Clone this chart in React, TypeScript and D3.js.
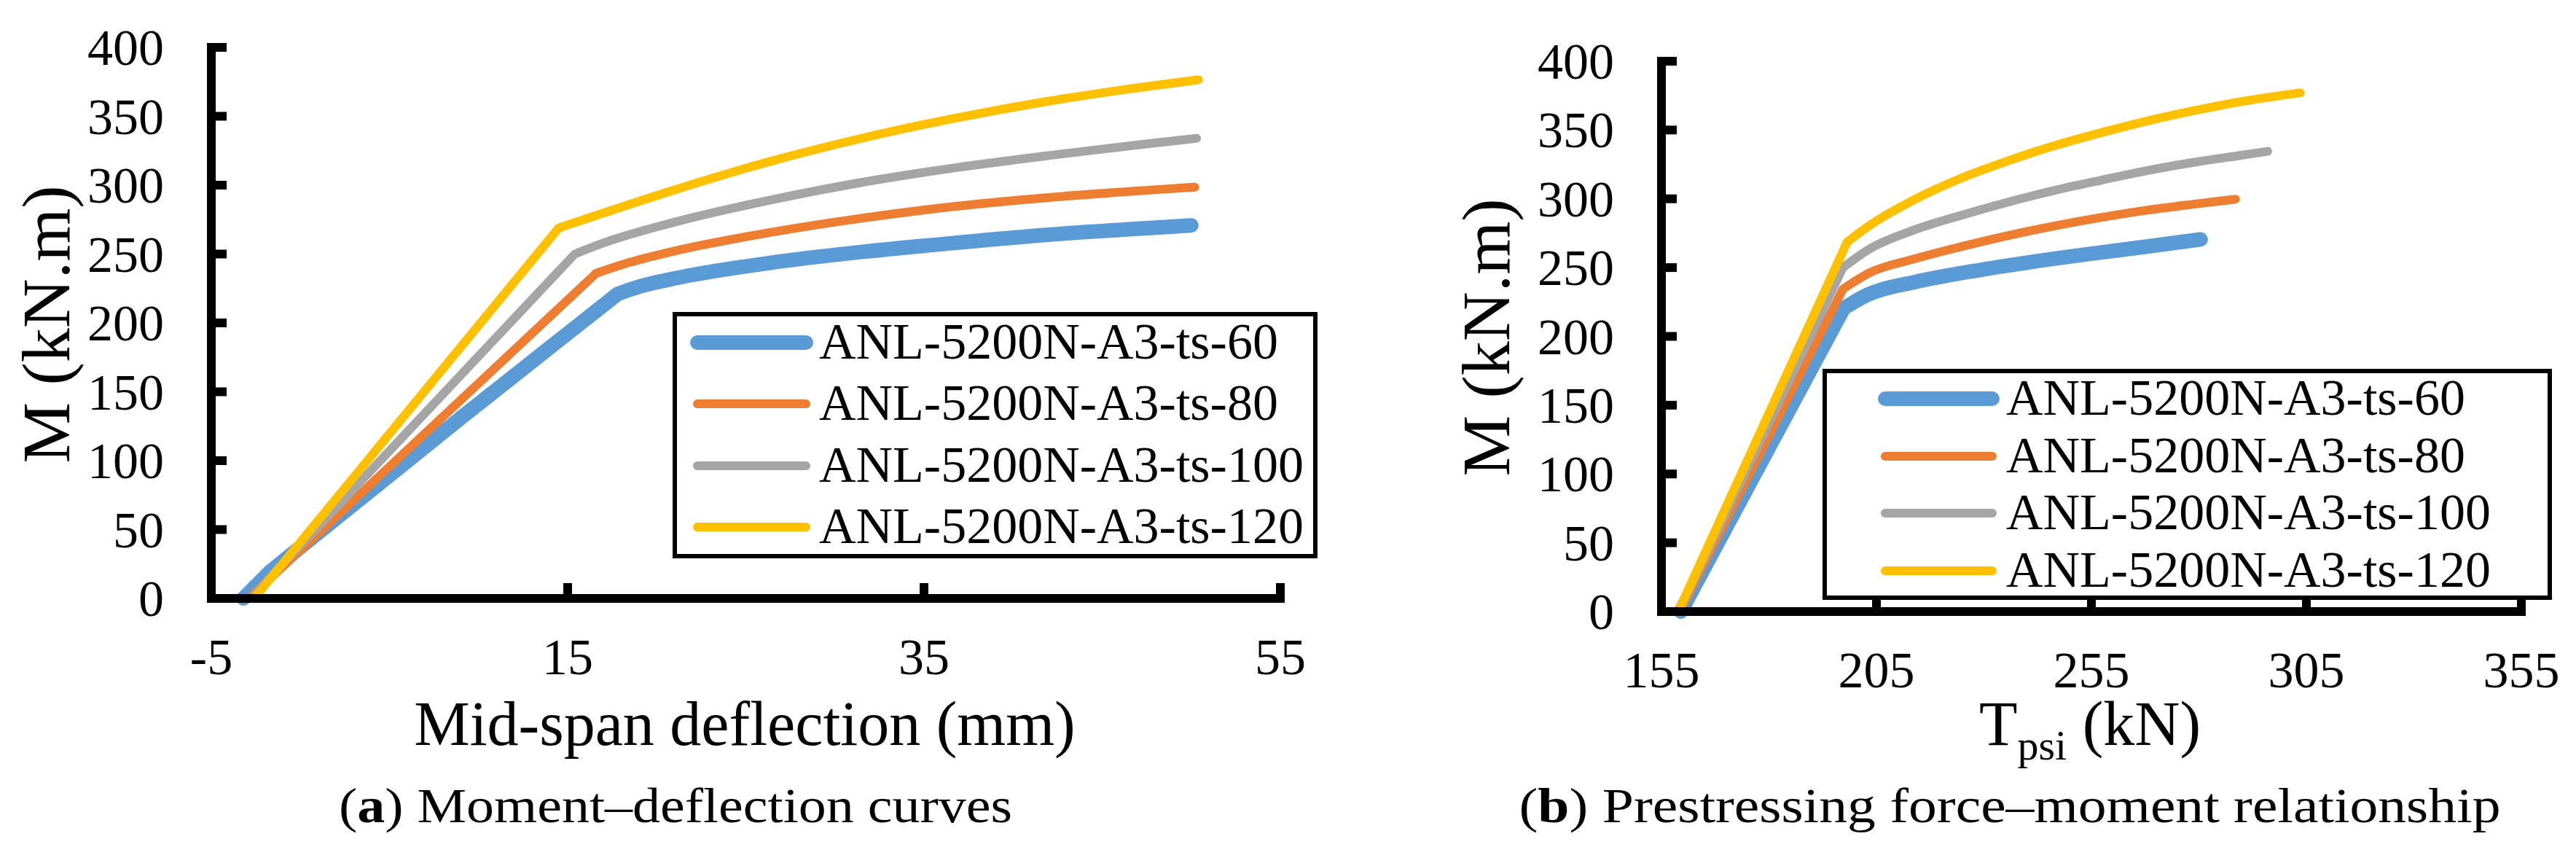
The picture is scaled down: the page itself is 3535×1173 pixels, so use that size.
import React from 'react';
import * as d3 from 'd3';

type Pt = [number, number];

// series labels and colours (Excel palette)
const SERIES_NAMES = [
  'ANL-5200N-A3-ts-60',
  'ANL-5200N-A3-ts-80',
  'ANL-5200N-A3-ts-100',
  'ANL-5200N-A3-ts-120',
];
const SERIES_COLORS = ['#5B9BD5', '#ED7D31', '#A5A5A5', '#FFC000'];

const M_TICKS = [0, 50, 100, 150, 200, 250, 300, 350, 400];
const DEFLECTION_TICKS = [-5, 15, 35, 55];
const FORCE_TICKS = [155, 205, 255, 305, 355];

// (a) mid-span deflection (mm) vs moment (kN.m)
const deflectionTs60: Pt[] = [[-3.2, 0], [-1.65, 20], [9, 131], [17.8, 221], [19.2, 227], [21.1, 232.5], [26.3, 243.5], [31.5, 251.5], [36.7, 258], [42, 264], [47.2, 268.5], [50, 270.8]];
const deflectionTs80: Pt[] = [[-2.9, 0], [16.6, 236], [18.5, 244], [21.1, 252.5], [26.3, 265.5], [31.5, 276], [36.7, 284.5], [42, 291], [50.2, 298.5]];
const deflectionTs100: Pt[] = [[-2.8, 0], [15.4, 250], [17, 258], [21.1, 273.5], [26.3, 289], [31.5, 302], [36.7, 312.5], [42, 321.5], [47.2, 329.5], [50.3, 334]];
const deflectionTs120: Pt[] = [[-2.6, 0], [14.5, 269], [15.9, 275], [21.1, 297], [26.3, 317], [31.5, 334], [36.7, 348.5], [42, 361], [47.2, 371], [50.4, 376.5]];

// (b) prestressing force T_psi (kN) vs moment (kN.m)
const forceTs60: Pt[] = [[159.5, 0], [197.4, 220.5], [203.1, 230.5], [213.9, 239.5], [224.7, 246], [235.5, 251.5], [246.3, 256.5], [257.2, 261], [267.9, 265.3], [280.4, 270.5]];
const forceTs80: Pt[] = [[159.3, 0], [197.2, 234.3], [203.1, 245.8], [213.9, 256.4], [224.7, 265.2], [235.5, 273.2], [246.3, 280.2], [257.2, 286.4], [267.9, 291.7], [278.8, 296.1], [288.5, 299.7]];
const forceTs100: Pt[] = [[159.1, 0], [197.2, 250], [203.1, 263], [213.9, 277.5], [224.7, 288], [235.5, 297.5], [246.3, 306], [257.2, 313.5], [267.9, 320.5], [278.8, 326.5], [289.6, 331.5], [296, 334.5]];
const forceTs120: Pt[] = [[158.9, 0], [198.2, 268.6], [203.1, 280], [213.9, 299.5], [224.7, 315], [235.5, 327.5], [246.3, 338.5], [257.2, 348], [267.9, 356.5], [278.8, 364], [289.6, 370.5], [303.6, 377]];

const FONT = '"Times New Roman", "Liberation Serif", serif';

// index of the yield point: where the slope drops the most
function kneeIndex(s: Pt[]) {
  let best = 1, bestRatio = 0;
  for (let i = 1; i < s.length - 1; i++) {
    const a = (s[i][1] - s[i - 1][1]) / (s[i][0] - s[i - 1][0]);
    const b = (s[i + 1][1] - s[i][1]) / (s[i + 1][0] - s[i][0]);
    const r = a / b;
    if (r > bestRatio) { bestRatio = r; best = i; }
  }
  return best;
}

interface PanelProps {
  xDomain: [number, number];
  xRange: [number, number];
  yRange: [number, number];
  xTicks: number[];
  series: Pt[][];
  legend: { x: number; y: number; w: number; h: number; lineX: [number, number]; textX: number; rows: number[] };
}

const Panel: React.FC<PanelProps> = ({ xDomain, xRange, yRange, xTicks, series, legend }) => {
  const x = d3.scaleLinear().domain(xDomain).range(xRange);
  const y = d3.scaleLinear().domain([0, 400]).range(yRange);
  const straight = d3.line<Pt>().x(d => x(d[0])).y(d => y(d[1]));
  const smooth = d3.line<Pt>().x(d => x(d[0])).y(d => y(d[1])).curve(d3.curveMonotoneX);

  // elastic branch straight, post-yield branch smoothed
  const pathFor = (s: Pt[]) => {
    const k = kneeIndex(s);
    const pre = straight(s.slice(0, k + 1)) || '';
    const post = (smooth(s.slice(k)) || '').replace(/^M/, 'L');
    return pre + post;
  };

  const ax = x(xDomain[0]);
  const ay = y(0);

  return (
    <g>
      {series.map((s, i) => (
        <path key={i} d={pathFor(s)} fill="none" stroke={SERIES_COLORS[i]}
          strokeWidth={i === 0 ? 20 : 12} strokeLinecap="round" strokeLinejoin="round" />
      ))}

      <line x1={ax} x2={ax} y1={y(400) - 6} y2={ay + 6} stroke="#000" strokeWidth={12} />
      <line x1={ax - 6} x2={x(xDomain[1]) + 6} y1={ay} y2={ay} stroke="#000" strokeWidth={12} />
      {M_TICKS.map(t => (
        <g key={'y' + t}>
          <line x1={ax} x2={ax + 21} y1={y(t)} y2={y(t)} stroke="#000" strokeWidth={12} />
          <text x={ax - 65} y={y(t) + 24} textAnchor="end" fontSize={70}>{t}</text>
        </g>
      ))}
      {xTicks.map(t => (
        <g key={'x' + t}>
          <line x1={x(t)} x2={x(t)} y1={ay} y2={ay - 21} stroke="#000" strokeWidth={12} />
          <text x={x(t)} y={ay + 104} textAnchor="middle" fontSize={70}>{t}</text>
        </g>
      ))}

      <rect x={legend.x} y={legend.y} width={legend.w} height={legend.h} fill="#fff" stroke="#000" strokeWidth={6} />
      {SERIES_NAMES.map((name, i) => (
        <g key={name}>
          <line x1={legend.lineX[0]} x2={legend.lineX[1]} y1={legend.rows[i]} y2={legend.rows[i]}
            stroke={SERIES_COLORS[i]} strokeWidth={i === 0 ? 20 : 12} strokeLinecap="round" />
          <text x={legend.textX} y={legend.rows[i] + 22} fontSize={70}>{name}</text>
        </g>
      ))}
    </g>
  );
};

export default function App() {
  return (
    <svg width={3535} height={1173} viewBox="0 0 3535 1173"
      style={{ position: 'absolute', left: 0, top: 0, background: '#fff' }}
      fontFamily={FONT} fill="#000">
      <rect width={3535} height={1173} fill="#fff" />

      <Panel
        xDomain={[-5, 55]} xRange={[290, 1757]} yRange={[821, 65]}
        xTicks={DEFLECTION_TICKS}
        series={[deflectionTs60, deflectionTs80, deflectionTs100, deflectionTs120]}
        legend={{ x: 926, y: 431, w: 879, h: 332, lineX: [957, 1106], textX: 1124, rows: [470, 554, 639, 723] }}
      />
      <text transform="translate(95,445) rotate(-90)" textAnchor="middle" fontSize={94}>M (kN.m)</text>
      <text x={1022} y={1022} textAnchor="middle" fontSize={86}>Mid-span deflection (mm)</text>
      <text x={927} y={1128} textAnchor="middle" fontSize={68} textLength={924} lengthAdjust="spacingAndGlyphs">
        (<tspan fontWeight="bold">a</tspan>) Moment–deflection curves
      </text>

      <Panel
        xDomain={[155, 355]} xRange={[2280, 3460]} yRange={[839, 84]}
        xTicks={FORCE_TICKS}
        series={[forceTs60, forceTs80, forceTs100, forceTs120]}
        legend={{ x: 2504, y: 509, w: 995, h: 311, lineX: [2587, 2734], textX: 2753, rows: [547, 626, 704, 783] }}
      />
      <text transform="translate(2071,463) rotate(-90)" textAnchor="middle" fontSize={94}>M (kN.m)</text>
      <text x={2868} y={1022} textAnchor="middle" fontSize={86}>
        T<tspan fontSize={58} dy={20}>psi</tspan><tspan dy={-20}> (kN)</tspan>
      </text>
      <text x={2758} y={1128} textAnchor="middle" fontSize={68} textLength={1347} lengthAdjust="spacingAndGlyphs">
        (<tspan fontWeight="bold">b</tspan>) Prestressing force–moment relationship
      </text>
    </svg>
  );
}
